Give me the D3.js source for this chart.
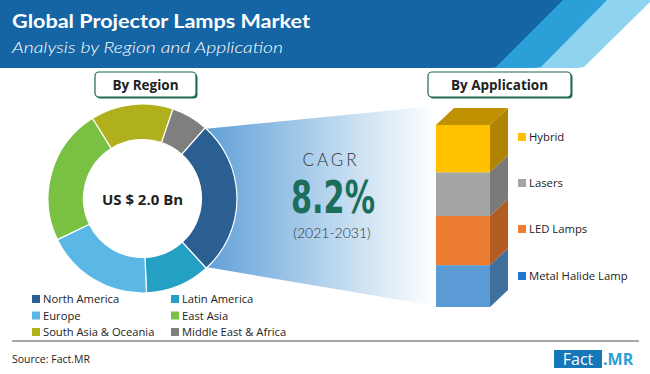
<!DOCTYPE html>
<html><head><meta charset="utf-8">
<script src="https://cdn.jsdelivr.net/npm/d3@7"></script>
<style>body{margin:0;background:#fff}svg{display:block}</style>
</head><body>
<script>
const regions = ["North America","Latin America","Europe","East Asia","South Asia & Oceania","Middle East & Africa"];
const regionShare = [26.7, 11.1, 18.5, 23.3, 14.1, 6.3];
const regionColors = ["#2b5f92","#25a0c5","#5ab7e6","#7ac143","#b0b01c","#7f7f7f"];
const legendOrder = ["North America","Latin America","Europe","East Asia","South Asia & Oceania","Middle East & Africa"];
const applications = ["Metal Halide Lamp","LED Lamps","Lasers","Hybrid"];
const appShare = [23, 27, 24, 26];
const appFront = ["#5b9bd5","#ed7d31","#a5a5a5","#ffc000"];
const appSide = ["#40719e","#b35c22","#7a7a7a","#b08400"];
const appLegendColors = ["#1f77d0","#ed7d31","#a5a5a5","#ffc000"];
const appTop = "#bf9000";
const marketSize = "US $ 2.0 Bn";
const cagrValue = "8.2%";
const cagrPeriod = "(2021-2031)";

const W=650,H=374;
const svg=d3.select("body").append("svg").attr("width",W).attr("height",H);
const defs=svg.append("defs");

// header
const hg=svg.append("g");
hg.append("path").attr("d","M0,0 L652,0 L584,67 Q580,68 575,68 L0,68 Z").attr("fill","#8fd4ef");
hg.append("path").attr("d","M0,0 L607,0 L541,67 Q537,68 532,68 L0,68 Z").attr("fill","#2a9fd8");
hg.append("path").attr("d","M0,0 L563,0 L496,67 Q492,68 487,68 L0,68 Z").attr("fill","#1565a5");
svg.append("text").attr("x",12).attr("y",28).attr("fill","#fff")
  .attr("textLength",298).attr("lengthAdjust","spacingAndGlyphs")
  .style("font-family","Lato, 'Open Sans', sans-serif").style("font-weight","bold").style("font-size","18.5px")
  .text("Global Projector Lamps Market");
svg.append("text").attr("x",12).attr("y",53).attr("fill","#fff")
  .attr("textLength",271).attr("lengthAdjust","spacingAndGlyphs")
  .style("font-family","Lato, 'Open Sans', sans-serif").style("font-style","italic").style("font-weight","300").style("font-size","15.5px")
  .text("Analysis by Region and Application");

// boxes
function box(x,y,w,h,label){
  svg.append("rect").attr("x",x+1.5).attr("y",y+1.5).attr("width",w).attr("height",h).attr("rx",4).attr("fill","#1d6b4e");
  svg.append("rect").attr("x",x).attr("y",y).attr("width",w).attr("height",h).attr("rx",4).attr("fill","#fff").attr("stroke","#1d6b4e").attr("stroke-width",1.2);
  svg.append("text").attr("x",x+w/2).attr("y",y+h/2+5).attr("text-anchor","middle").attr("fill","#222")
    .style("font-family","'Open Sans', sans-serif").style("font-weight","bold").style("font-size","13.5px").text(label);
}

// funnel gradient
const grad=defs.append("linearGradient").attr("id","fg").attr("x1","0").attr("x2","1").attr("y1","0").attr("y2","0");
grad.append("stop").attr("offset","0").attr("stop-color","#5f9fd6");
grad.append("stop").attr("offset","0.55").attr("stop-color","#b9d6ee");
grad.append("stop").attr("offset","1").attr("stop-color","#ffffff");
svg.append("path").attr("d","M204,129 L436,106 L436,306 L206,267 Z").attr("fill","url(#fg)");

// donut
const cx=142.5, cy=198.5, rO=94.5, rI=59;
const startA=41.5*Math.PI/180;
const pie=d3.pie().sort(null).startAngle(startA).endAngle(startA+2*Math.PI);
const arc=d3.arc().innerRadius(rI).outerRadius(rO);
const dg=svg.append("g").attr("transform",`translate(${cx},${cy})`);
dg.selectAll("path").data(pie(regionShare)).join("path").attr("d",arc)
  .attr("fill",(d,i)=>regionColors[i]).attr("stroke","#fff").attr("stroke-width",1.2);
dg.append("circle").attr("r",rI-0.5).attr("fill","#fff");
dg.append("text").attr("y",6).attr("text-anchor","middle").attr("fill","#222")
  .style("font-family","'Open Sans', sans-serif").style("font-weight","bold").style("font-size","15px").text(marketSize);

box(95,72,101,25,"By Region");
box(428,72,143,25,"By Application");

// CAGR
svg.append("text").attr("x",331).attr("y",166).attr("text-anchor","middle").attr("fill","#333")
  .style("font-family","Lato, 'Open Sans', sans-serif").style("font-weight","300").style("font-size","17px").style("letter-spacing","3px").text("CAGR");
svg.append("text").attr("x",291).attr("y",213).attr("fill","#1b6e5a")
  .attr("textLength",84).attr("lengthAdjust","spacingAndGlyphs")
  .style("font-family","'DejaVu Sans Condensed','DejaVu Sans', sans-serif").style("font-weight","bold").style("font-size","44px").text(cagrValue);
svg.append("text").attr("x",332).attr("y",238).attr("text-anchor","middle").attr("fill","#333")
  .style("font-family","Lato, 'Open Sans', sans-serif").style("font-weight","300").style("font-size","14px").text(cagrPeriod);

// 3D bar
const total=d3.sum(appShare);
const y=d3.scaleLinear().domain([0,total]).range([307,125]);
const x0=436, x1=490, dx=18, dy=-17;
const bg=svg.append("g");
let cum=0;
appShare.forEach((v,i)=>{
  const ya=y(cum), yb=y(cum+v); cum+=v;
  bg.append("rect").attr("x",x0).attr("y",yb).attr("width",x1-x0).attr("height",ya-yb).attr("fill",appFront[i]);
  bg.append("path").attr("d",`M${x1},${ya} L${x1+dx},${ya+dy} L${x1+dx},${yb+dy} L${x1},${yb} Z`).attr("fill",appSide[i]);
});
const yt=y(total);
bg.append("path").attr("d",`M${x0},${yt} L${x1},${yt} L${x1+dx},${yt+dy} L${x0+dx},${yt+dy} Z`).attr("fill",appTop);

// app legend
const appLegY=[276,229,183,137];
applications.forEach((a,i)=>{
  const g=svg.append("g").attr("transform",`translate(518,${appLegY[i]})`);
  g.append("rect").attr("x",0).attr("y",-4).attr("width",8).attr("height",8).attr("fill",appLegendColors[i]);
  g.append("text").attr("x",11).attr("y",4).attr("fill","#222")
    .style("font-family","'Open Sans', sans-serif").style("font-size","11.3px").text(a);
});

// region legend
legendOrder.forEach((r,k)=>{
  const i=regions.indexOf(r);
  const col=k%2, row=Math.floor(k/2);
  const gx=col?171:32, gy=299+row*16.5;
  const g=svg.append("g").attr("transform",`translate(${gx},${gy})`);
  g.append("rect").attr("x",0).attr("y",-4).attr("width",8).attr("height",8).attr("fill",regionColors[i]);
  g.append("text").attr("x",11).attr("y",4).attr("fill","#222")
    .style("font-family","'Open Sans', sans-serif").style("font-size","11.2px").text(r);
});

// footer
svg.append("line").attr("x1",12).attr("x2",639).attr("y1",341).attr("y2",341).attr("stroke","#8a8a8a").attr("stroke-width",1.5);
svg.append("text").attr("x",12).attr("y",363).attr("fill","#222")
  .style("font-family","'Open Sans', sans-serif").style("font-size","10.5px").text("Source: Fact.MR");
svg.append("rect").attr("x",554).attr("y",350).attr("width",48).attr("height",18).attr("fill","#1576b8");
svg.append("text").attr("x",578).attr("y",365).attr("text-anchor","middle").attr("fill","#fff")
  .style("font-family","'Open Sans', sans-serif").style("font-size","16px").text("Fact");
svg.append("text").attr("x",603).attr("y",365).attr("fill","#2a9fd6")
  .style("font-family","'Open Sans', sans-serif").style("font-weight","bold").style("font-size","16px").text(".MR");
</script>
</body></html>
